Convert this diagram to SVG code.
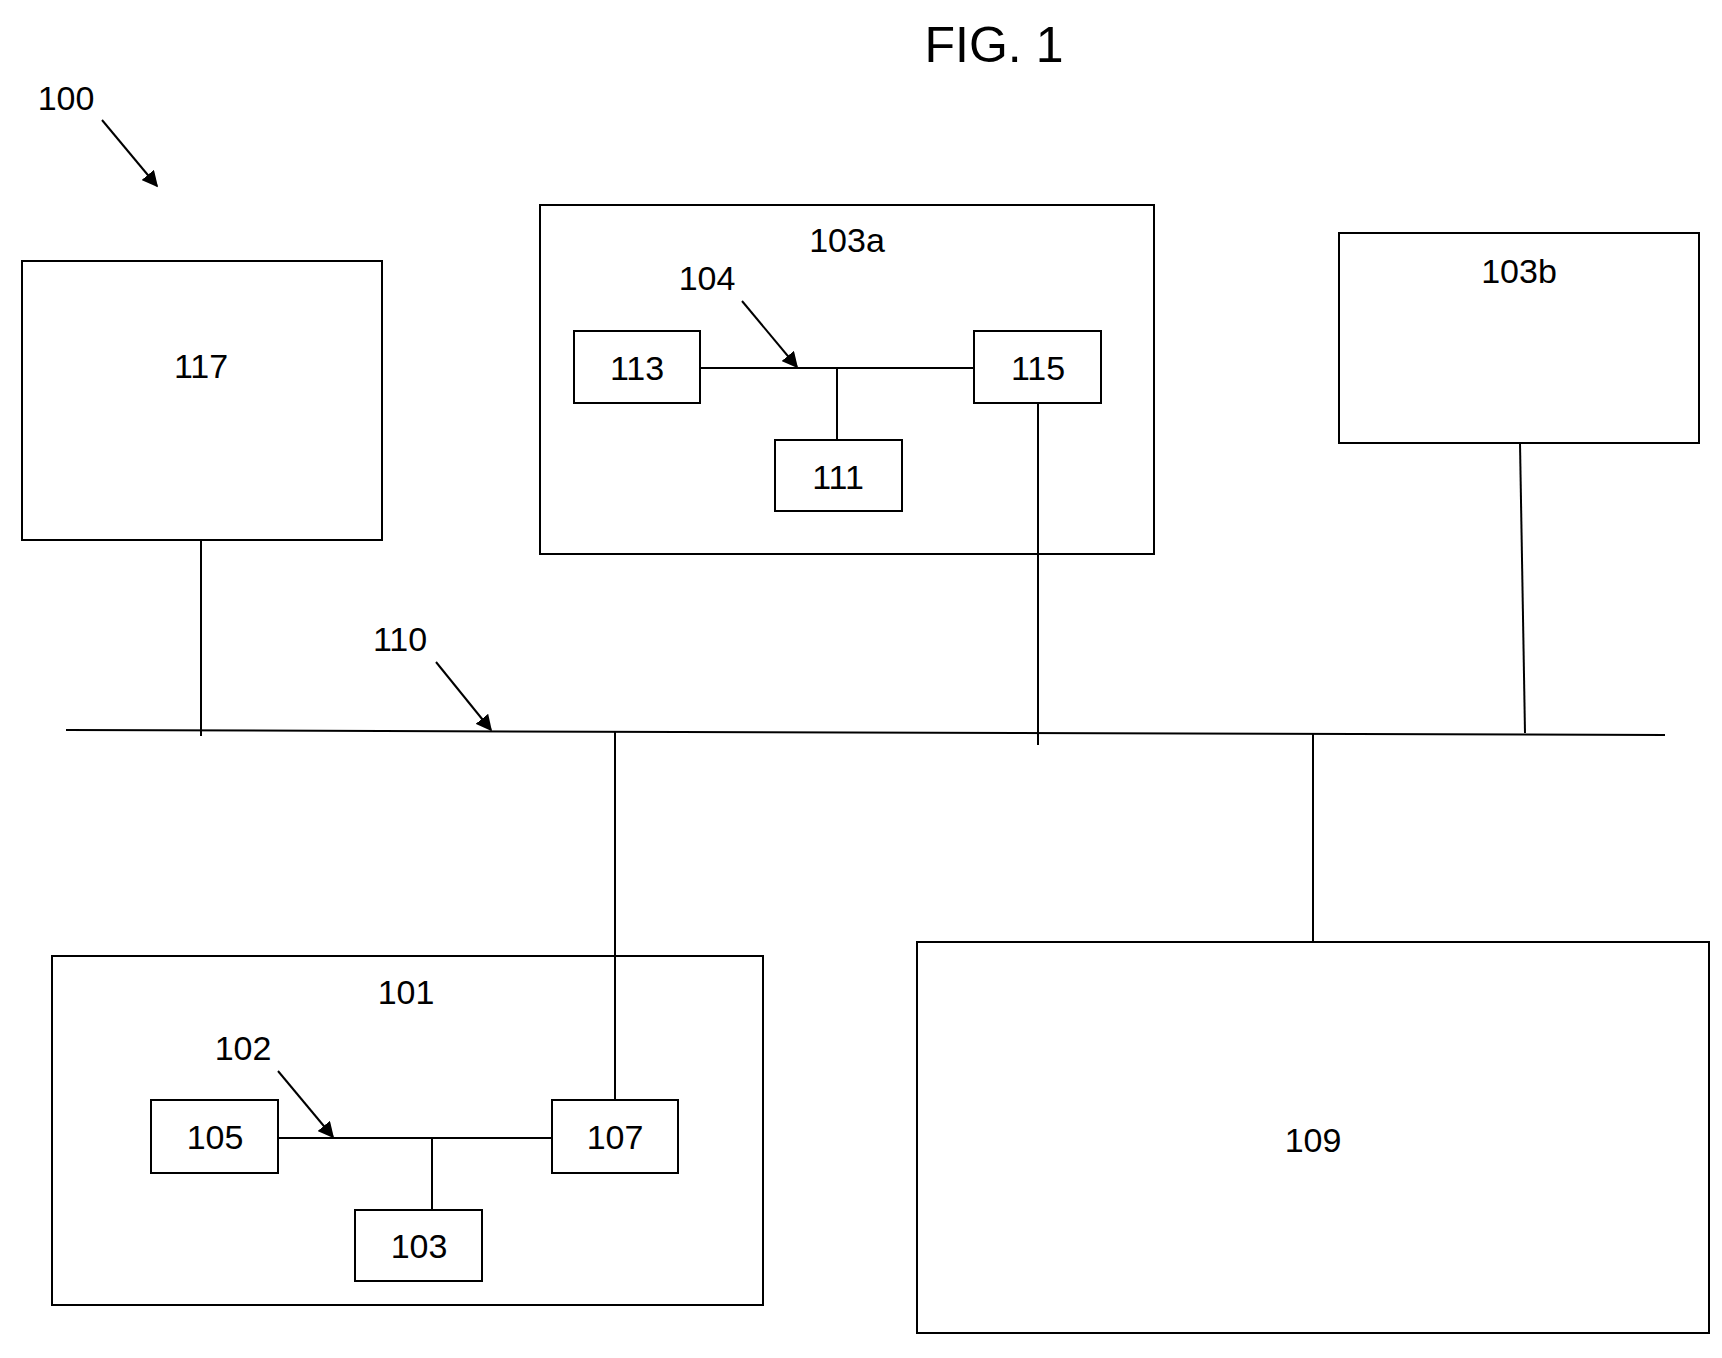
<svg xmlns="http://www.w3.org/2000/svg" width="1722" height="1358" viewBox="0 0 1722 1358">
<style>
.b{fill:#fff;stroke:#000;stroke-width:2}
.l{stroke:#000;stroke-width:2;fill:none}
text{font-family:"Liberation Sans",Arial,sans-serif;font-size:34px;text-anchor:middle;fill:#000}
</style>
<defs><marker id="ah2" viewBox="0 0 10 10" refX="9" refY="5" markerWidth="16" markerHeight="16" markerUnits="userSpaceOnUse" orient="auto"><path d="M0,0L10,5L0,10z" fill="#000"/></marker></defs>
<text x="994" y="62" style="font-size:50px">FIG. 1</text>
<text x="66" y="110">100</text>
<text x="400" y="651">110</text>
<g id="n117"><rect class="b" x="22" y="261" width="360" height="279"/><text x="201" y="378">117</text></g>
<g id="n103a"><rect class="b" x="540" y="205" width="614" height="349"/><text x="847" y="252">103a</text><text x="707" y="290">104</text></g>
<g id="n113"><rect class="b" x="574" y="331" width="126" height="72"/><text x="637" y="380">113</text></g>
<g id="n115"><rect class="b" x="974" y="331" width="127" height="72"/><text x="1038" y="380">115</text></g>
<g id="n111"><rect class="b" x="775" y="440" width="127" height="71"/><text x="838" y="489">111</text></g>
<g id="n103b"><rect class="b" x="1339" y="233" width="360" height="210"/><text x="1519" y="283">103b</text></g>
<g id="n101"><rect class="b" x="52" y="956" width="711" height="349"/><text x="406" y="1004">101</text><text x="243" y="1060">102</text></g>
<g id="n105"><rect class="b" x="151" y="1100" width="127" height="73"/><text x="215" y="1149">105</text></g>
<g id="n107"><rect class="b" x="552" y="1100" width="126" height="73"/><text x="615" y="1149">107</text></g>
<g id="n103"><rect class="b" x="355" y="1210" width="127" height="71"/><text x="419" y="1258">103</text></g>
<g id="n109"><rect class="b" x="917" y="942" width="792" height="391"/><text x="1313" y="1152">109</text></g>
<g id="connectors">
<line class="l" x1="102" y1="120" x2="157" y2="186" marker-end="url(#ah2)"/>
<line class="l" x1="66" y1="730" x2="1665" y2="735"/>
<line class="l" x1="436" y1="662" x2="491" y2="730" marker-end="url(#ah2)"/>
<line class="l" x1="201" y1="540" x2="201" y2="736"/>
<line class="l" x1="1038" y1="403" x2="1038" y2="745"/>
<line class="l" x1="1520" y1="443" x2="1525" y2="733"/>
<line class="l" x1="615" y1="732" x2="615" y2="1100"/>
<line class="l" x1="1313" y1="734" x2="1313" y2="942"/>
<line class="l" x1="700" y1="368" x2="974" y2="368"/>
<line class="l" x1="837" y1="368" x2="837" y2="440"/>
<line class="l" x1="742" y1="301" x2="797" y2="367" marker-end="url(#ah2)"/>
<line class="l" x1="278" y1="1138" x2="552" y2="1138"/>
<line class="l" x1="432" y1="1138" x2="432" y2="1210"/>
<line class="l" x1="278" y1="1071" x2="333" y2="1137" marker-end="url(#ah2)"/>
</g>
</svg>
